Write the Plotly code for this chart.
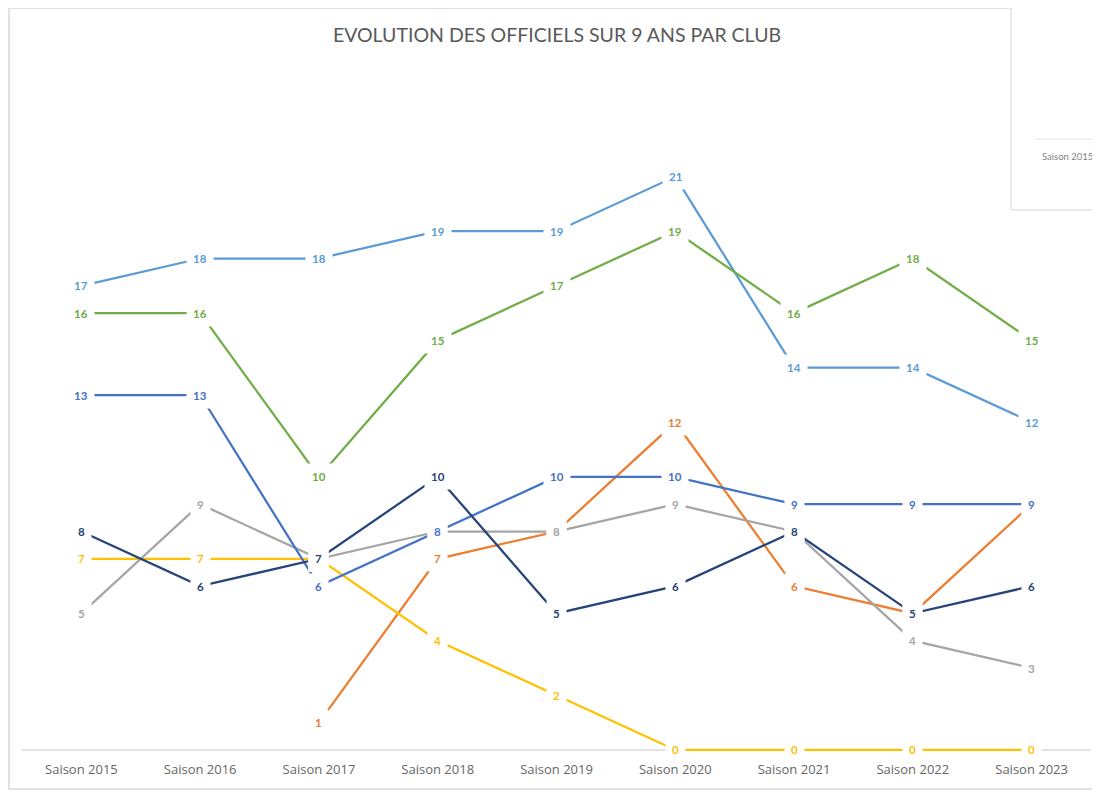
import plotly.graph_objects as go

# Data
saisons = ["Saison 2015", "Saison 2016", "Saison 2017", "Saison 2018", "Saison 2019",
           "Saison 2020", "Saison 2021", "Saison 2022", "Saison 2023"]

club_orange = [None, None, 1, 7, 8, 12, 6, 5, 9]
club_jaune = [7, 7, 7, 4, 2, 0, 0, 0, 0]
club_gris = [5, 9, 7, 8, 8, 9, 8, 4, 3]
club_bleu_clair = [17, 18, 18, 19, 19, 21, 14, 14, 12]
club_vert = [16, 16, 10, 15, 17, 19, 16, 18, 15]
club_bleu = [13, 13, 6, 8, 10, 10, 9, 9, 9]
club_marine = [8, 6, 7, 10, 5, 6, 8, 5, 6]

series = [
    ("Club orange", club_orange, "#ED7D31"),
    ("Club jaune", club_jaune, "#FFC000"),
    ("Club gris", club_gris, "#A5A5A5"),
    ("Club bleu clair", club_bleu_clair, "#5B9BD5"),
    ("Club vert", club_vert, "#70AD47"),
    ("Club bleu", club_bleu, "#4472C4"),
    ("Club marine", club_marine, "#264478"),
]

FONT = "Lato, 'Open Sans', sans-serif"

# page has an 8px body margin: shrink the figure so pixel positions match the picture
OFF = 8
W, H = 1100, 795
ML, MR, MT, MB = 22, 9, 122, 41


def px(x):
    # picture x (px) -> paper x
    return (x - ML) / (W - ML - MR)


def py(y):
    # picture y (px) -> paper y
    return (H - MB - y) / (H - MT - MB)


fig = go.Figure()

for name, vals, color in series:
    fig.add_trace(go.Scatter(
        x=saisons, y=vals, name=name, mode="lines",
        line=dict(color=color, width=2.25),
        connectgaps=False, showlegend=False, hoverinfo="x+y+name",
    ))

# data labels with white fill (Excel style), later series on top
annotations = []
for name, vals, color in series:
    for s, v in zip(saisons, vals):
        if v is None:
            continue
        annotations.append(dict(
            x=s, y=v, xref="x", yref="y", text=f"<b>{v}</b>", showarrow=False,
            font=dict(family=FONT, size=11.5, color=color),
            bgcolor="white", borderpad=6, xanchor="center", yanchor="middle",
        ))

# partial neighbouring chart at the top right
annotations.append(dict(
    x=px(1040), y=py(157), xref="paper", yref="paper", text="Saison 2015",
    showarrow=False, xanchor="left", yanchor="middle",
    font=dict(family=FONT, size=9.5, color="#7F7F7F"),
))

shapes = [
    # outer chart border
    dict(type="rect", xref="paper", yref="paper", x0=px(9), x1=px(1110), y0=py(789), y1=py(8),
         line=dict(color="#D9D9D9", width=1.5), layer="below"),
    # category axis line at y = 0, under the series
    dict(type="line", xref="paper", yref="y", x0=0, x1=1, y0=0, y1=0,
         line=dict(color="#D9D9D9", width=1.5), layer="below"),
    # neighbouring chart frame
    dict(type="rect", xref="paper", yref="paper", x0=px(1011), x1=px(1110), y0=py(210), y1=py(-5),
         line=dict(color="#E3E3E3", width=1.5), fillcolor="white", layer="above"),
    dict(type="line", xref="paper", yref="paper", x0=px(1035), x1=px(1105), y0=py(139), y1=py(139),
         line=dict(color="#E3E3E3", width=1), layer="above"),
]

fig.update_layout(
    width=W - OFF, height=H - OFF,
    margin=dict(l=ML - OFF, r=MR, t=MT - OFF, b=MB, autoexpand=False),
    paper_bgcolor="white", plot_bgcolor="white",
    title=dict(text="EVOLUTION DES OFFICIELS SUR 9 ANS PAR CLUB", x=557 / (W - OFF) - OFF / (W - OFF),
               xanchor="center", y=1 - (35 - OFF) / (H - OFF), yanchor="middle",
               font=dict(family=FONT, size=19.5, color="#595959")),
    annotations=annotations,
    shapes=shapes,
    showlegend=False,
)

fig.update_xaxes(
    type="category", range=[-0.5, 8.5], autorange=False, automargin=False,
    showgrid=False, zeroline=False, showline=False,
    ticks="", ticklabelstandoff=6,
    tickfont=dict(family="'Open Sans', sans-serif", size=13, color="#666666"),
)
fig.update_yaxes(range=[-0.15, 23], autorange=False, visible=False, showgrid=False, zeroline=False)

fig.write_html("out.html")
